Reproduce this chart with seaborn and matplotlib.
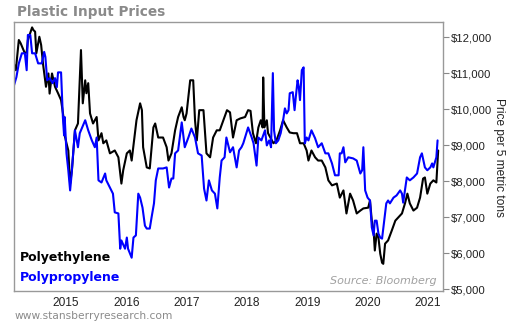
import numpy as np
import pandas as pd
import matplotlib
matplotlib.use("Agg")
import matplotlib.pyplot as plt
import seaborn as sns

# Polyethylene (black)
pe_year = [2014.14, 2014.17, 2014.22, 2014.25, 2014.32, 2014.35, 2014.37, 2014.44, 2014.46, 2014.49,
           2014.51, 2014.56, 2014.59, 2014.62, 2014.67, 2014.71, 2014.73, 2014.77, 2014.82, 2014.87,
           2014.92, 2014.96, 2014.98, 2015.01, 2015.04, 2015.07, 2015.10, 2015.15, 2015.20, 2015.25,
           2015.28, 2015.32, 2015.34, 2015.37, 2015.40, 2015.45, 2015.51, 2015.54, 2015.59, 2015.62,
           2015.67, 2015.73, 2015.81, 2015.87, 2015.92, 2015.95, 2016.01, 2016.06, 2016.09, 2016.17,
           2016.23, 2016.26, 2016.28, 2016.34, 2016.39, 2016.45, 2016.48, 2016.53, 2016.61, 2016.67,
           2016.70, 2016.75, 2016.81, 2016.86, 2016.92, 2016.95, 2016.97, 2017.00, 2017.06, 2017.11,
           2017.14, 2017.17, 2017.21, 2017.28, 2017.33, 2017.39, 2017.44, 2017.50, 2017.55, 2017.61,
           2017.67, 2017.72, 2017.77, 2017.83, 2017.89, 2017.97, 2018.02, 2018.06, 2018.10, 2018.15,
           2018.19, 2018.23, 2018.26, 2018.27, 2018.29, 2018.33, 2018.35, 2018.44, 2018.49, 2018.55,
           2018.60, 2018.66, 2018.71, 2018.77, 2018.83, 2018.88, 2018.94, 2018.99, 2019.02, 2019.07,
           2019.13, 2019.18, 2019.24, 2019.30, 2019.35, 2019.41, 2019.49, 2019.54, 2019.60, 2019.65,
           2019.71, 2019.76, 2019.82, 2019.88, 2019.93, 2020.01, 2020.04, 2020.07, 2020.10, 2020.12,
           2020.15, 2020.18, 2020.21, 2020.24, 2020.26, 2020.29, 2020.34, 2020.40, 2020.46, 2020.51,
           2020.57, 2020.62, 2020.66, 2020.70, 2020.76, 2020.82, 2020.87, 2020.92, 2020.95, 2020.99,
           2021.04, 2021.09, 2021.14, 2021.17]
pe_price = [11250, 11080, 11920, 11830, 11550, 11580, 11920, 12270, 12200, 12150,
            11550, 12010, 11780, 11270, 10620, 10990, 10430, 10990, 10620, 10440,
            10250, 9780, 9270, 9050, 8850, 7930, 8300, 9410, 9600, 11640,
            10160, 10800, 10440, 10720, 9880, 9600, 9780, 9130, 9330, 9050,
            9130, 8770, 8850, 8660, 7930, 8300, 8770, 8850, 8570, 9690,
            10160, 9970, 8940, 8380, 8350, 9490, 9600, 9210, 9210, 8940,
            8570, 8770, 9410, 9780, 10050, 9780, 9690, 9880, 10800, 10800,
            9690, 9130, 9970, 9970, 8770, 8660, 9210, 9410, 9410, 9690,
            9970, 9910, 9210, 9690, 9740, 9780, 9970, 9950, 9330, 9050,
            9490, 9690, 9490, 10880, 9490, 9690, 9330, 9050, 9130, 9410,
            9690, 9490, 9350, 9330, 9330, 9050, 9050, 8850, 8570, 8850,
            8660, 8570, 8570, 8380, 8020, 7880, 7930, 7540, 7740, 7100,
            7650, 7460, 7100, 7180, 7240, 7260, 7460, 6900, 6620, 6070,
            6540, 6430, 5980, 5730, 5700, 6260, 6350, 6620, 6900, 6990,
            7100, 7380, 7650, 7380, 7180, 7260, 7540, 8070, 8100, 7650,
            7930, 8020, 7960, 8850]

# Polypropylene (blue)
pp_year = [2014.14, 2014.18, 2014.22, 2014.27, 2014.32, 2014.35, 2014.37, 2014.41, 2014.44, 2014.49,
           2014.54, 2014.60, 2014.64, 2014.66, 2014.69, 2014.73, 2014.78, 2014.82, 2014.85, 2014.87,
           2014.92, 2014.95, 2014.97, 2014.98, 2015.01, 2015.04, 2015.07, 2015.09, 2015.15, 2015.18,
           2015.20, 2015.23, 2015.32, 2015.37, 2015.43, 2015.48, 2015.51, 2015.54, 2015.59, 2015.65,
           2015.67, 2015.73, 2015.78, 2015.81, 2015.87, 2015.90, 2015.92, 2015.98, 2016.01, 2016.03,
           2016.09, 2016.12, 2016.16, 2016.20, 2016.23, 2016.27, 2016.31, 2016.34, 2016.39, 2016.42,
           2016.46, 2016.49, 2016.53, 2016.61, 2016.67, 2016.71, 2016.75, 2016.78, 2016.81, 2016.86,
           2016.92, 2016.97, 2017.03, 2017.08, 2017.14, 2017.19, 2017.25, 2017.29, 2017.33, 2017.37,
           2017.42, 2017.47, 2017.51, 2017.55, 2017.58, 2017.63, 2017.66, 2017.72, 2017.77, 2017.83,
           2017.87, 2017.91, 2017.94, 2018.02, 2018.08, 2018.11, 2018.16, 2018.19, 2018.24, 2018.30,
           2018.33, 2018.37, 2018.40, 2018.43, 2018.45, 2018.48, 2018.52, 2018.56, 2018.60, 2018.63,
           2018.66, 2018.69, 2018.71, 2018.76, 2018.79, 2018.81, 2018.84, 2018.86, 2018.88, 2018.91,
           2018.94, 2018.96, 2018.99, 2019.02, 2019.07, 2019.13, 2019.18, 2019.24, 2019.30, 2019.35,
           2019.41, 2019.46, 2019.52, 2019.54, 2019.57, 2019.60, 2019.63, 2019.68, 2019.76, 2019.82,
           2019.88, 2019.91, 2019.93, 2019.96, 2020.00, 2020.04, 2020.07, 2020.10, 2020.12, 2020.15,
           2020.18, 2020.21, 2020.24, 2020.27, 2020.31, 2020.34, 2020.37, 2020.43, 2020.48, 2020.54,
           2020.57, 2020.59, 2020.65, 2020.70, 2020.76, 2020.82, 2020.87, 2020.90, 2020.95, 2020.99,
           2021.04, 2021.07, 2021.09, 2021.14, 2021.16]
pp_price = [10660, 10890, 11270, 11550, 11550, 11080, 12060, 12060, 11550, 11550,
            11270, 11270, 11590, 11450, 10800, 10860, 10720, 10860, 10610, 11020,
            11020, 9780, 9270, 9780, 8770, 8300, 7740, 8100, 9410, 9130,
            8940, 9330, 9690, 9410, 9130, 8940, 9210, 8020, 7960, 8210,
            8020, 7820, 7650, 7130, 7100, 6120, 6350, 6120, 6430, 6120,
            5870, 6430, 6490, 7650, 7540, 7260, 6760, 6680, 6680, 6990,
            7380, 8020, 8350, 8350, 8380, 7820, 8070, 8070, 8770, 8850,
            9630, 8940, 9210, 9460, 9210, 8770, 8710, 7790, 7460, 8020,
            7740, 7650, 7240, 8100, 8570, 8660, 9210, 8800, 8940, 8380,
            8850, 8940, 9050, 9490, 9210, 9050, 8430, 9210, 9130, 9410,
            8990, 9130, 8940, 11000, 9410, 9050, 9130, 9330, 9690, 10020,
            9880, 9970, 10440, 10470, 9970, 10330, 10800, 10610, 10250, 11080,
            11160, 9050, 9210, 9130, 9410, 9190, 8940, 9050, 8770, 8770,
            8490, 8160, 8160, 8770, 8770, 8940, 8520, 8660, 8630, 8570,
            8210, 8300, 8940, 7740, 7540, 7460, 6710, 6490, 6900, 6900,
            6540, 6430, 6400, 6820, 7380, 7460, 7380, 7540, 7600, 7740,
            7650, 7400, 8100, 8020, 8100, 8210, 8660, 8770, 8380, 8300,
            8380, 8490, 8380, 8660, 9130]

year_ticks = [2015, 2016, 2017, 2018, 2019, 2020, 2021]
price_ticks = [5000, 6000, 7000, 8000, 9000, 10000, 11000, 12000]

df = pd.concat([
    pd.DataFrame({"year": pe_year, "price": pe_price, "series": "Polyethylene"}),
    pd.DataFrame({"year": pp_year, "price": pp_price, "series": "Polypropylene"}),
])

sns.set_theme(style="white")
plt.rcParams['font.family'] = ['DejaVu Sans']

ARIAL = "Liberation Sans"

fig = plt.figure(figsize=(5.09, 3.25), dpi=100)
ax = fig.add_axes([14/509, 1-291/325, (443-14)/509, (291-22)/325])

sns.lineplot(data=df, x="year", y="price", hue="series",
             palette={"Polyethylene": "#000000", "Polypropylene": "#0000ff"},
             linewidth=1.5, legend=False, ax=ax, sort=False)

ax.set_xlim(2014.14, 2021.25)
ax.set_ylim(4945, 12420)
ax.set_xticks(year_ticks)
ax.set_xticklabels([str(y) for y in year_ticks], fontsize=8.6, color="#222222", family=ARIAL)
ax.set_yticks(price_ticks)
ax.set_yticklabels([f"${v:,}" for v in price_ticks], fontsize=8.2, color="#222222", family=ARIAL)
ax.yaxis.tick_right()
ax.tick_params(axis="y", which="both", right=True, length=4, width=0.8, color="#888888", pad=2)
ax.tick_params(axis="x", length=0, pad=4)
ax.set_xlabel("")
ax.set_ylabel("")
for s in ax.spines.values():
    s.set_color("#999999")
    s.set_linewidth(1.0)

fig.text(499/509, 1-157/325, "Price per 5 metric tons", rotation=270, fontsize=8.6,
         color="#222222", family=ARIAL, va="center", ha="center")
fig.text(17/509, 1-12/325, "Plastic Input Prices", fontsize=9.8, fontweight="bold",
         color="#8a8a8a", va="center", ha="left")
ax.text(0.014, 0.123, "Polyethylene", transform=ax.transAxes, fontsize=9, fontweight="bold",
        color="#000000", va="center", ha="left")
ax.text(0.014, 0.052, "Polypropylene", transform=ax.transAxes, fontsize=9, fontweight="bold",
        color="#0000ff", va="center", ha="left")
ax.text(0.986, 0.037, "Source: Bloomberg", transform=ax.transAxes, fontsize=8, style="italic",
        color="#a0a0a0", va="center", ha="right")
fig.text(15/509, 1-316/325, "www.stansberryresearch.com", fontsize=7.7, color="#8a8a8a",
         va="center", ha="left")

fig.savefig("out.png", dpi=100)
